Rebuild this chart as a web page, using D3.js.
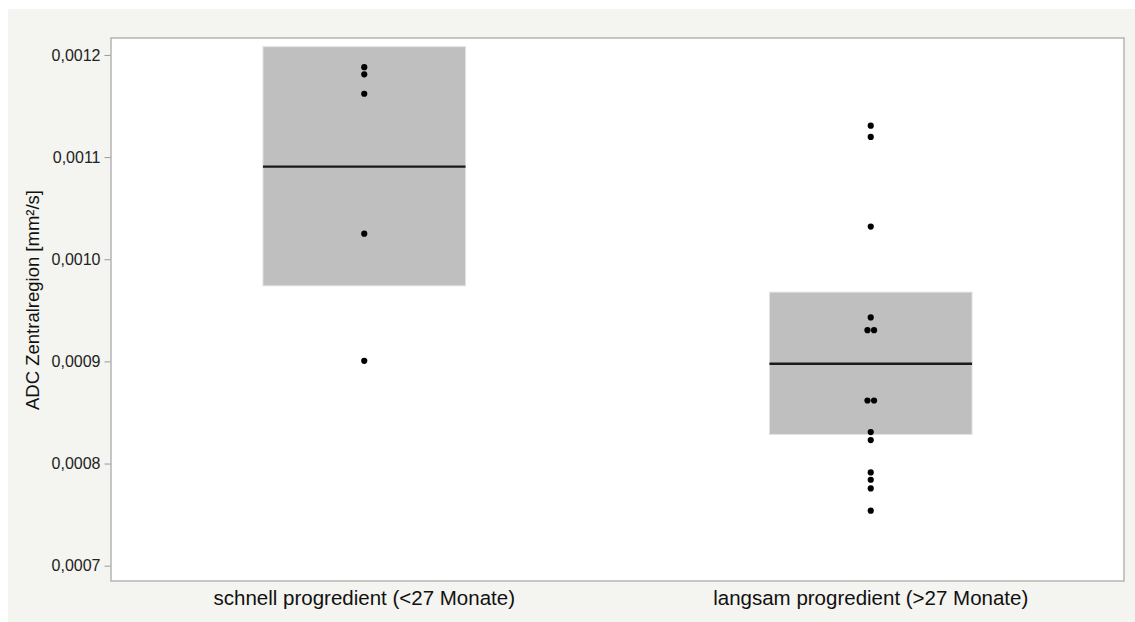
<!DOCTYPE html>
<html>
<head>
<meta charset="utf-8">
<script src="https://cdn.jsdelivr.net/npm/d3@7"></script>
<style>
  html, body { margin: 0; padding: 0; background: #ffffff; }
  svg { display: block; font-family: "Liberation Sans", Arial, Helvetica, sans-serif; }
</style>
</head>
<body>
<svg id="chart" width="1135" height="622"></svg>
<script>
// Groups along the x axis
const categories = ["schnell progredient (<27 Monate)", "langsam progredient (>27 Monate)"];

// Individual ADC measurements per group [mm²/s]
const valuesSchnell = [0.001188, 0.001181, 0.001162, 0.001025, 0.0009006];
const valuesLangsam = [0.0011308, 0.0011198, 0.0010320, 0.0009430, 0.0009306, 0.0009306,
                       0.0008617, 0.0008617, 0.0008308, 0.0008230, 0.0007913, 0.0007841,
                       0.0007756, 0.0007538];

// Group summaries: centre line and shaded band limits
const groupMean = [0.0010907, 0.0008977];
const bandLow   = [0.000974, 0.0008285];
const bandHigh  = [0.0012081, 0.0009678];

// Value axis
const yTicks = [0.0007, 0.0008, 0.0009, 0.0010, 0.0011, 0.0012];
const yDomain = [0.000685, 0.0012166];
const yTitle = "ADC Zentralregion [mm²/s]";

const groups = [valuesSchnell, valuesLangsam];

const svg = d3.select("#chart");
const W = 1135, H = 622;
const plot = { left: 111, top: 38, right: 1124, bottom: 581 };

// page background panel
svg.append("rect").attr("x", 8).attr("y", 9).attr("width", W - 8).attr("height", H - 9)
  .attr("fill", "#f4f4f0");

const x = d3.scaleBand().domain(categories).range([plot.left, plot.right]).padding(0);
const y = d3.scaleLinear().domain(yDomain).range([plot.bottom, plot.top]);

// plot area
svg.append("rect")
  .attr("x", plot.left).attr("y", plot.top)
  .attr("width", plot.right - plot.left).attr("height", plot.bottom - plot.top)
  .attr("fill", "#ffffff");

const boxW = x.bandwidth() * 0.4;

// shaded bands
categories.forEach((c, i) => {
  const cx = x(c) + x.bandwidth() / 2;
  svg.append("rect")
    .attr("x", cx - boxW / 2).attr("y", y(bandHigh[i]))
    .attr("width", boxW).attr("height", y(bandLow[i]) - y(bandHigh[i]))
    .attr("fill", "#bfbfbf")
    .attr("stroke", "#e2e2e2").attr("stroke-width", 1);
  svg.append("line")
    .attr("x1", cx - boxW / 2).attr("x2", cx + boxW / 2)
    .attr("y1", y(groupMean[i])).attr("y2", y(groupMean[i]))
    .attr("stroke", "#1a1a1a").attr("stroke-width", 2.4);
});

// individual points; tied values are placed side by side
const r = 3.1;
categories.forEach((c, i) => {
  const cx = x(c) + x.bandwidth() / 2;
  const counts = d3.rollup(groups[i], v => v.length, d => d);
  const seen = new Map();
  groups[i].forEach(v => {
    const n = counts.get(v);
    const k = seen.get(v) || 0;
    seen.set(v, k + 1);
    const off = (k - (n - 1) / 2) * (2 * r + 0.4);
    svg.append("circle")
      .attr("cx", cx + off).attr("cy", y(v)).attr("r", r)
      .attr("fill", "#000000");
  });
});

// frame
svg.append("rect")
  .attr("x", plot.left).attr("y", plot.top)
  .attr("width", plot.right - plot.left).attr("height", plot.bottom - plot.top)
  .attr("fill", "none").attr("stroke", "#b4b4b4").attr("stroke-width", 1.5);

// y axis
const fmt = v => d3.format(".4f")(v).replace(".", ",");
const yAxis = d3.axisLeft(y).tickValues(yTicks).tickFormat(fmt).tickSize(6).tickPadding(4);
const gy = svg.append("g").attr("transform", `translate(${plot.left - 0.5},0)`).call(yAxis);
gy.select(".domain").remove();
gy.selectAll(".tick line").attr("stroke", "#9a9a9a");
gy.selectAll(".tick text").attr("fill", "#222").style("font-size", "16px");

// x axis labels
const xAxis = d3.axisBottom(x).tickSize(0).tickPadding(9);
const gx = svg.append("g").attr("transform", `translate(0,${plot.bottom})`).call(xAxis);
gx.select(".domain").remove();
gx.selectAll(".tick text").attr("fill", "#111").style("font-size", "20.5px");

// y title
svg.append("text")
  .attr("transform", "translate(38.5,300) rotate(-90)")
  .attr("text-anchor", "middle")
  .attr("fill", "#111")
  .style("font-size", "18.5px")
  .text(yTitle);
</script>
</body>
</html>
